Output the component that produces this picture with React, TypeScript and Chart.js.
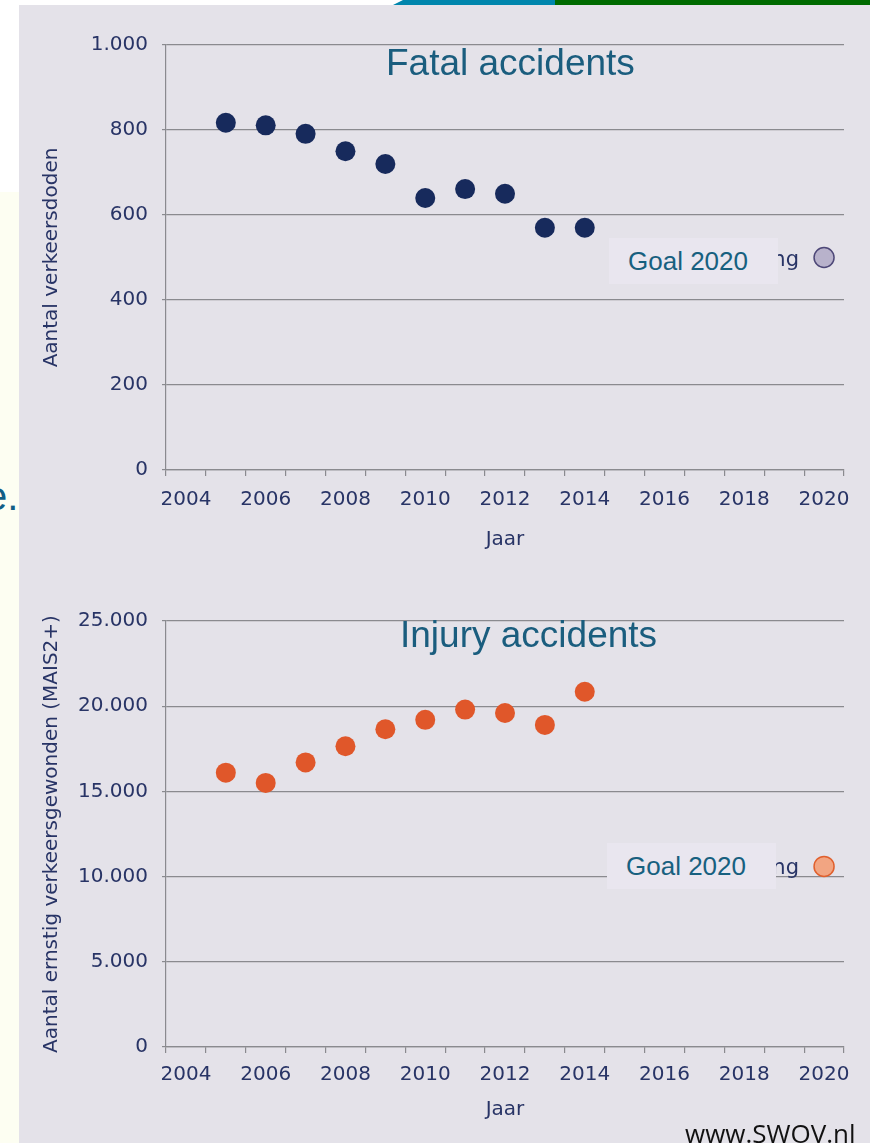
import React, { useEffect, useRef } from 'react';
import { Chart, registerables } from 'chart.js';

Chart.register(...registerables);

// ---- data ----
const years = ['2004', '2005', '2006', '2007', '2008', '2009', '2010', '2011', '2012', '2013', '2014', '2015', '2016', '2017', '2018', '2019', '2020'];
const fatalities = [null, 817, 811, 791, 750, 720, 640, 661, 650, 570, 570, null, null, null, null, null, null];
const fatalGoal = [null, null, null, null, null, null, null, null, null, null, null, null, null, null, null, null, 500];
const injuries = [null, 16100, 15500, 16700, 17650, 18650, 19200, 19800, 19600, 18900, 20850, null, null, null, null, null, null];
const injuryGoal = [null, null, null, null, null, null, null, null, null, null, null, null, null, null, null, null, 10600];
const fatalTicks = [0, 200, 400, 600, 800, 1000];
const injuryTicks = [0, 5000, 10000, 15000, 20000, 25000];
const xTitle = 'Jaar';
const fatalYTitle = 'Aantal verkeersdoden';
const injuryYTitle = 'Aantal ernstig verkeersgewonden (MAIS2+)';

const AXIS_FONT = 'DejaVu Sans';
const TEXT = '#283466';
const LINE = '#8A8A8F';
const FS = 20;

const fmt = (v: number) => String(v).replace(/\B(?=(\d{3})+(?!\d))/g, '.');

function makeConfig(o: {
  values: (number | null)[];
  goal: (number | null)[];
  ticks: number[];
  yTitle: string;
  color: string;
  goalFill: string;
  goalBorder: string;
  padTop: number;
  xHeight: number;
  xTickPad: number;
  xTitlePad: number;
}): any {
  return {
    type: 'line',
    data: {
      labels: years,
      datasets: [
        {
          data: o.values,
          showLine: false,
          pointRadius: 10,
          pointHoverRadius: 10,
          pointBackgroundColor: o.color,
          pointBorderColor: o.color,
          pointBorderWidth: 0,
        },
        {
          data: o.goal,
          showLine: false,
          pointRadius: 10,
          pointHoverRadius: 10,
          pointBackgroundColor: o.goalFill,
          pointBorderColor: o.goalBorder,
          pointBorderWidth: 1.5,
        },
      ],
    },
    options: {
      responsive: false,
      animation: false,
      devicePixelRatio: 1,
      layout: { padding: { left: 0, top: o.padTop, right: 26, bottom: 0 } },
      plugins: { legend: { display: false }, tooltip: { enabled: false }, title: { display: false } },
      scales: {
        x: {
          type: 'category',
          offset: true,
          afterFit: (s: any) => { s.height = o.xHeight; },
          grid: { display: true, drawOnChartArea: false, drawTicks: true, tickLength: 6, color: LINE, offset: true, lineWidth: 1.2 },
          border: { display: true, color: LINE, width: 1.2 },
          ticks: {
            autoSkip: false,
            maxRotation: 0,
            padding: o.xTickPad,
            color: TEXT,
            font: { family: AXIS_FONT, size: FS },
            callback: (_v: any, i: number) => (i % 2 === 0 ? years[i] : ''),
          },
          title: { display: true, text: xTitle, color: TEXT, font: { family: AXIS_FONT, size: FS }, padding: { top: 0, bottom: o.xTitlePad } },
        },
        y: {
          min: o.ticks[0],
          max: o.ticks[o.ticks.length - 1],
          afterFit: (s: any) => { s.width = 166; },
          afterBuildTicks: (s: any) => { s.ticks = o.ticks.map((v) => ({ value: v })); },
          grid: { color: LINE, tickLength: 4, lineWidth: 1.2 },
          border: { display: true, color: LINE, width: 1.2 },
          ticks: {
            padding: 14,
            color: TEXT,
            font: { family: AXIS_FONT, size: FS },
            callback: (v: any) => fmt(Number(v)),
          },
          title: { display: true, text: o.yTitle, color: TEXT, font: { family: AXIS_FONT, size: FS }, padding: { top: 40, bottom: 0 } },
        },
      },
    },
  };
}

const abs = (s: React.CSSProperties): React.CSSProperties => ({ position: 'absolute', ...s });

export default function App() {
  const c1 = useRef<HTMLCanvasElement>(null);
  const c2 = useRef<HTMLCanvasElement>(null);

  useEffect(() => {
    const ch1 = new Chart(
      c1.current!,
      makeConfig({
        values: fatalities,
        goal: fatalGoal,
        ticks: fatalTicks,
        yTitle: fatalYTitle,
        color: '#172A5C',
        goalFill: '#B8B2CB',
        goalBorder: '#4E4878',
        padTop: 45,
        xHeight: 100,
        xTickPad: 12,
        xTitlePad: 18,
      })
    );
    const ch2 = new Chart(
      c2.current!,
      makeConfig({
        values: injuries,
        goal: injuryGoal,
        ticks: injuryTicks,
        yTitle: injuryYTitle,
        color: '#E0572A',
        goalFill: '#F2A582',
        goalBorder: '#E0602E',
        padTop: 51,
        xHeight: 96,
        xTickPad: 10,
        xTitlePad: 21,
      })
    );
    return () => {
      ch1.destroy();
      ch2.destroy();
    };
  }, []);

  const goalBox: React.CSSProperties = {
    background: '#E9E6EF',
    width: 169,
    height: 46,
    lineHeight: '46px',
    paddingLeft: 19,
    boxSizing: 'border-box',
    fontFamily: '"Liberation Sans", Arial, sans-serif',
    fontSize: 26,
    color: '#17607F',
    zIndex: 3,
  };
  const hiddenLabel: React.CSSProperties = {
    width: 200,
    textAlign: 'right',
    fontFamily: AXIS_FONT,
    fontSize: 21,
    lineHeight: '21px',
    color: TEXT,
    zIndex: 2,
    whiteSpace: 'nowrap',
  };
  const title: React.CSSProperties = {
    fontFamily: '"Liberation Sans", Arial, sans-serif',
    fontSize: 37,
    lineHeight: '37px',
    color: '#1A5D7E',
    whiteSpace: 'nowrap',
    zIndex: 3,
  };

  return (
    <div style={abs({ left: 0, top: 0, width: 870, height: 1143, overflow: 'hidden', background: '#FFFFFF' })}>
      {/* top decoration */}
      <div style={abs({ left: 393, top: 0, width: 170, height: 5, background: '#0086AD', clipPath: 'polygon(10px 0, 100% 0, 100% 100%, 0 100%)' })} />
      <div style={abs({ left: 555, top: 0, width: 315, height: 5, background: '#006B00' })} />
      {/* left strip */}
      <div style={abs({ left: 0, top: 192, width: 19, height: 951, background: '#FDFEF2' })} />
      <div style={abs({ left: -15, top: 476, fontFamily: '"Liberation Sans", Arial, sans-serif', fontSize: 40, lineHeight: '40px', color: '#115E86', whiteSpace: 'nowrap' })}>e.</div>
      {/* panel */}
      <div style={abs({ left: 19, top: 5, width: 851, height: 1138, background: '#E4E2E9' })} />

      <canvas ref={c1} width={870} height={570} style={abs({ left: 0, top: 0, width: 870, height: 570, zIndex: 1 })} />
      <canvas ref={c2} width={870} height={573} style={abs({ left: 0, top: 570, width: 870, height: 573, zIndex: 1 })} />

      <div style={abs({ ...title, left: 386, top: 44 })}>Fatal accidents</div>
      <div style={abs({ ...title, left: 400, top: 616 })}>Injury accidents</div>

      <div style={abs({ ...hiddenLabel, left: 599, top: 249 })}>Doelstelling</div>
      <div style={abs({ ...goalBox, left: 609, top: 238 })}>Goal 2020</div>

      <div style={abs({ ...hiddenLabel, left: 599, top: 857 })}>Doelstelling</div>
      <div style={abs({ ...goalBox, left: 607, top: 843 })}>Goal 2020</div>

      <div style={abs({ left: 685, top: 1120, fontFamily: '"Open Sans", sans-serif', fontSize: 26, lineHeight: '26px', color: '#111111', whiteSpace: 'nowrap', zIndex: 3 })}>www.SWOV.nl</div>
    </div>
  );
}
